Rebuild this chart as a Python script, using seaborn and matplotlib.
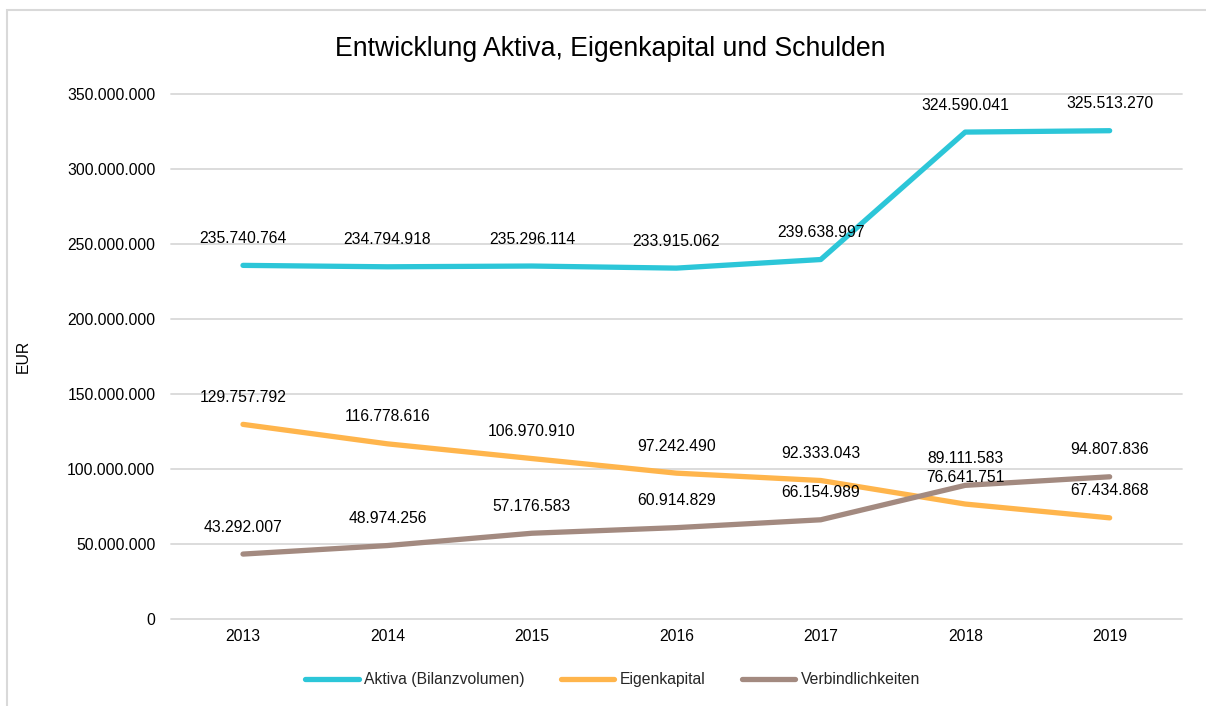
import matplotlib
matplotlib.use("Agg")
import matplotlib.pyplot as plt
import seaborn as sns
import pandas as pd
from matplotlib.patches import Rectangle
from matplotlib.lines import Line2D

years = [2013, 2014, 2015, 2016, 2017, 2018, 2019]
aktiva = [235740764, 234794918, 235296114, 233915062, 239638997, 324590041, 325513270]
eigenkapital = [129757792, 116778616, 106970910, 97242490, 92333043, 76641751, 67434868]
verbindlichkeiten = [43292007, 48974256, 57176583, 60914829, 66154989, 89111583, 94807836]
series_names = ["Aktiva (Bilanzvolumen)", "Eigenkapital", "Verbindlichkeiten"]
colors = ["#2CC6D8", "#FFB54C", "#A38A80"]
title = "Entwicklung Aktiva, Eigenkapital und Schulden"
ylabel = "EUR"
yticks = [0, 50000000, 100000000, 150000000, 200000000, 250000000, 300000000, 350000000]

sns.set_theme(style="white")
plt.rcParams["font.family"] = ["Liberation Sans", "DejaVu Sans"]

rows = []
for name, vals in zip(series_names, [aktiva, eigenkapital, verbindlichkeiten]):
    for y, v in zip(years, vals):
        rows.append({"Jahr": y, "Wert": v, "Serie": name})
df = pd.DataFrame(rows)

fig = plt.figure(figsize=(12.06, 7.06), dpi=100)
ax = fig.add_axes([0.1416, 0.1232, 0.980 - 0.1416, 0.8669 - 0.1232])

sns.lineplot(data=df, x="Jahr", y="Wert", hue="Serie", hue_order=series_names,
             palette=colors, linewidth=3.8, ax=ax, legend=False,
             solid_capstyle="round")

def fmt(v):
    return f"{int(v):,}".replace(",", ".")

for vals in [aktiva, eigenkapital, verbindlichkeiten]:
    for y, v in zip(years, vals):
        ax.annotate(fmt(v), (y, v), xytext=(0, 27), textcoords="offset pixels",
                    ha="center", va="center", fontsize=11.3, color="#000000")

ax.set_xlim(years[0] - 0.5, years[-1] + 0.5)
ax.set_ylim(0, 350000000)
ax.set_xticks(years)
ax.set_xticklabels([str(y) for y in years])
ax.set_yticks(yticks)
ax.set_yticklabels([fmt(t) for t in yticks])
ax.tick_params(axis="y", length=0, pad=11, labelsize=11.3, labelcolor="#000000")
ax.tick_params(axis="x", length=0, pad=7, labelsize=11.3, labelcolor="#000000")
ax.grid(axis="y", color="#D9D9D9", linewidth=1.3)
ax.grid(axis="x", visible=False)
for gl in ax.get_ygridlines():
    gl.set_clip_on(False)
for s in ax.spines.values():
    s.set_visible(False)
ax.set_xlabel("")
ax.set_ylabel(ylabel, fontsize=11.3, color="#000000")
ax.yaxis.set_label_coords(-0.138, 0.5)

fig.text(0.506, 0.931, title, ha="center", va="center", fontsize=19.2, color="#000000")

handles = [Line2D([0], [0], color=c, linewidth=3.8, solid_capstyle="round") for c in colors]
fig.legend(handles, series_names, loc="center", bbox_to_anchor=(0.508, 0.037), ncol=3,
           frameon=False, fontsize=11.3, handlelength=3.4, handletextpad=0.35,
           columnspacing=2.3)

fig.patches.append(Rectangle((7 / 1206, -0.1), 1.2, 1 - 10 / 706 + 0.1,
                             transform=fig.transFigure, fill=False,
                             edgecolor="#D9D9D9", linewidth=1.5))

fig.savefig("out.png", dpi=100)
